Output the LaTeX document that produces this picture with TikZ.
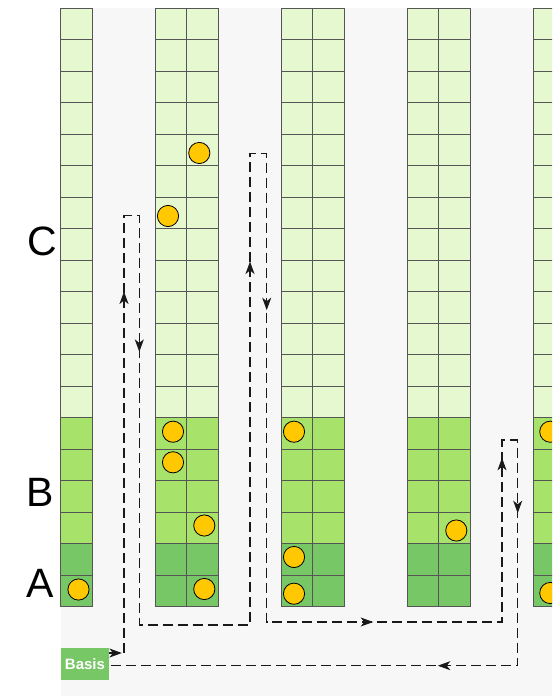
\documentclass[tikz,border=0pt]{standalone}
\usepackage{fontspec}
\setmainfont{Liberation Sans}
\usetikzlibrary{arrows.meta,decorations.markings}

\definecolor{bgGray}{HTML}{F7F7F7}
\definecolor{cellLight}{HTML}{E6F8CF}
\definecolor{cellMid}{HTML}{A7E36A}
\definecolor{cellDark}{HTML}{78C767}
\definecolor{gridLine}{HTML}{555555}
\definecolor{tokenFill}{HTML}{FFC800}

\newcommand{\flowtip}{\arrow{Stealth[length=12.5pt,width=9pt,inset=3.5pt]}}

\tikzset{
  gridrule/.style={draw=gridLine, line width=1pt},
  token/.style={fill=tokenFill, draw=black, line width=0.8pt},
  levellabel/.style={font=\fontsize{41}{49}\selectfont, inner sep=0pt},
  basisbox/.style={fill=cellDark, text=white, font=\fontsize{15}{18}\selectfont\bfseries,
    minimum width=48pt, minimum height=31.4pt, inner sep=0pt},
  flow/.style={draw=black!90, line width=1.2pt, dash pattern=on 10pt off 5pt,
    postaction={decorate, decoration={markings,
      mark=at position 12.7pt with {\flowtip},
      mark=at position 376.3pt with {\flowtip},
      mark=at position 603.6pt with {\flowtip},
      mark=at position 1350.9pt with {\flowtip},
      mark=at position 1632.7pt with {\flowtip},
      mark=at position 2051pt with {\flowtip},
      mark=at position 2344pt with {\flowtip},
      mark=at position 2450.7pt with {\flowtip},
      mark=at position 2683.1pt with {\flowtip}}}}
}

\begin{document}
\begin{tikzpicture}[x=1pt, y=-1pt]
  \useasboundingbox (0,0) rectangle (552,696);
  \clip (0,0) rectangle (552,696);

  % backdrop
  \fill[bgGray] (61,8) rectangle (552,696);

  % stacks of cells: 13 light, 4 medium, 2 dark rows
  \foreach \x/\w in {60.5/1, 155.3/2, 281/2, 407/2, 533/2}{
    \pgfmathsetmacro\xr{\x+31.5*\w}
    \fill[cellLight] (\x,8) rectangle (\xr,417.5);
    \fill[cellMid] (\x,417.5) rectangle (\xr,543.5);
    \fill[cellDark] (\x,543.5) rectangle (\xr,606.5);
    \foreach \r in {1,...,18}
      \draw[gridrule] (\x,8+31.5*\r) -- (\xr,8+31.5*\r);
    \ifnum\w=2 \draw[gridrule] (\x+31.5,8) -- (\x+31.5,606.5); \fi
    \draw[gridrule] (\x,8) rectangle (\xr,606.5);
  }

  % tokens
  \foreach \p in {(78.5,589.5),
                  (199.3,153), (168,216), (173,431.7), (173,462.3), (204.3,525.5), (204.3,589),
                  (294,431.7), (294,557), (294,593.7),
                  (456.3,530.5),
                  (550.3,431.7), (550.3,593)}
    \draw[token] \p circle[radius=10.6];

  % level labels
  \node[levellabel] (labC) at (42,241) {C};
  \node[levellabel] (labB) at (40,492) {B};
  \node[levellabel] (labA) at (40,583) {A};

  % start node
  \node[basisbox] (basis) at (85,664) {Basis};

  % corners of the traversal
  \coordinate (b1) at (124,653);
  \coordinate (b2) at (124,215.7);
  \coordinate (b3) at (139.3,215.7);
  \coordinate (b4) at (139.3,625);
  \coordinate (b5) at (250,625);
  \coordinate (b6) at (250,153.3);
  \coordinate (b7) at (266.7,153.3);
  \coordinate (b8) at (266.7,622);
  \coordinate (b9) at (502,622);
  \coordinate (b10) at (502,440);
  \coordinate (b11) at (517.7,440);
  \coordinate (b12) at (517.7,665.7);

  \draw[flow] (basis.east |- b1) -- (b1) -- (b2) -- (b3) -- (b4) -- (b5) -- (b6)
    -- (b7) -- (b8) -- (b9) -- (b10) -- (b11) -- (b12) -- (basis.east |- b12);
\end{tikzpicture}
\end{document}
